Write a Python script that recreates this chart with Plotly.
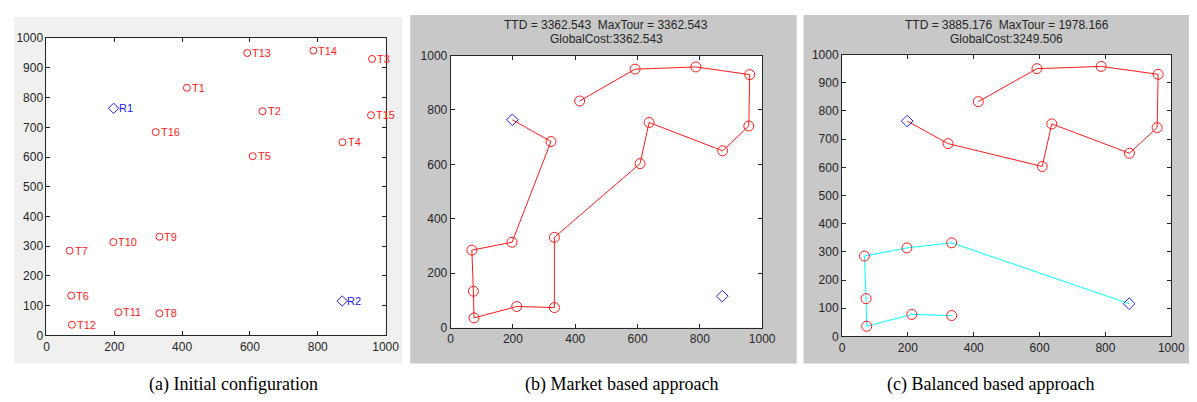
import plotly.graph_objects as go

# ---------------- data ----------------
target_names = ["T1", "T2", "T3", "T4", "T5", "T6", "T7", "T8", "T9", "T10",
                "T11", "T12", "T13", "T14", "T15", "T16"]
target_x = [414, 637, 960, 873, 608, 73, 68, 333, 333, 197, 212, 75, 592, 787, 957, 322]
target_y = [833, 754, 930, 650, 603, 134, 285, 74, 332, 314, 78, 36, 950, 958, 741, 684]

robot_names = ["R1", "R2"]
robot_x = [198, 872]
robot_y = [764, 116]

# routes (sequence of node names)
market_route_r1 = ["R1", "T16", "T10", "T7", "T6", "T12", "T11", "T8", "T9", "T5",
                   "T2", "T4", "T15", "T3", "T14", "T13", "T1"]
balanced_route_r1 = ["R1", "T16", "T5", "T2", "T4", "T15", "T3", "T14", "T13", "T1"]
balanced_route_r2 = ["R2", "T9", "T10", "T7", "T6", "T12", "T11", "T8"]

title_b = ["TTD = 3362.543  MaxTour = 3362.543", "GlobalCost:3362.543"]
title_c = ["TTD = 3885.176  MaxTour = 1978.166", "GlobalCost:3249.506"]
captions = ["(a) Initial configuration", "(b) Market based approach", "(c) Balanced based approach"]

# ---------------- helpers ----------------
W, H = 1197, 402
coords = {n: (x, y) for n, x, y in zip(target_names, target_x, target_y)}
coords.update({n: (x, y) for n, x, y in zip(robot_names, robot_x, robot_y)})


def px(x):
    return x / W


def py(y):
    return 1 - y / H


def route_xy(route):
    return [coords[n][0] for n in route], [coords[n][1] for n in route]


RED = "#ff1a1a"
BLUE = "#2020ff"
CYAN = "#00ffff"
AX = "#262626"
TICKFONT = dict(family="Liberation Sans, Arial", size=12, color=AX)

fig = go.Figure()

# panels: (axis suffix, x px range, y px range, ytick step)
panels = [
    ("", (36, 380), (24, 332), 100),
    ("2", (446, 762), (42, 324), 200),
    ("3", (843, 1177), (41, 333), 100),
]

# ---- panel a : initial configuration ----
fig.add_trace(go.Scatter(
    x=target_x, y=target_y, mode="markers",
    marker=dict(symbol="circle-open", size=7, color=RED, line=dict(width=1)),
    xaxis="x", yaxis="y", showlegend=False, cliponaxis=False))
fig.add_trace(go.Scatter(
    x=robot_x, y=robot_y, mode="markers",
    marker=dict(symbol="diamond-open", size=8, color=BLUE, line=dict(width=1)),
    xaxis="x", yaxis="y", showlegend=False, cliponaxis=False))

label_ann = []
for names, xs, ys, col in [(target_names, target_x, target_y, RED),
                           (robot_names, robot_x, robot_y, BLUE)]:
    for n, x, y in zip(names, xs, ys):
        label_ann.append(dict(text=n, x=x, y=y, xref="x", yref="y", showarrow=False,
                              xanchor="left", yanchor="middle", xshift=3,
                              font=dict(family="Liberation Sans, Arial", size=11, color=col)))

# ---- panel b : market based ----
rx, ry = route_xy(market_route_r1)
fig.add_trace(go.Scatter(x=rx, y=ry, mode="lines", line=dict(color=RED, width=1),
                         xaxis="x2", yaxis="y2", showlegend=False))
fig.add_trace(go.Scatter(x=target_x, y=target_y, mode="markers",
                         marker=dict(symbol="circle-open", size=10, color=RED, line=dict(width=1)),
                         xaxis="x2", yaxis="y2", showlegend=False))
fig.add_trace(go.Scatter(x=robot_x, y=robot_y, mode="markers",
                         marker=dict(symbol="diamond-open", size=9, color=BLUE, line=dict(width=1)),
                         xaxis="x2", yaxis="y2", showlegend=False))

# ---- panel c : balanced ----
rx, ry = route_xy(balanced_route_r1)
fig.add_trace(go.Scatter(x=rx, y=ry, mode="lines", line=dict(color=RED, width=1),
                         xaxis="x3", yaxis="y3", showlegend=False))
rx, ry = route_xy(balanced_route_r2)
fig.add_trace(go.Scatter(x=rx, y=ry, mode="lines", line=dict(color=CYAN, width=1),
                         xaxis="x3", yaxis="y3", showlegend=False))
fig.add_trace(go.Scatter(x=target_x, y=target_y, mode="markers",
                         marker=dict(symbol="circle-open", size=10, color=RED, line=dict(width=1)),
                         xaxis="x3", yaxis="y3", showlegend=False))
fig.add_trace(go.Scatter(x=robot_x, y=robot_y, mode="markers",
                         marker=dict(symbol="diamond-open", size=9, color=BLUE, line=dict(width=1)),
                         xaxis="x3", yaxis="y3", showlegend=False))

layout = dict(
    width=W, height=H, margin=dict(l=0, r=0, t=0, b=0),
    paper_bgcolor="white", plot_bgcolor="white", showlegend=False,
)

for suf, (x0, x1), (y0, y1), ystep in panels:
    common = dict(showgrid=False, zeroline=False, showline=True, linecolor=AX, linewidth=1,
                  mirror="ticks", ticks="inside", ticklen=4, tickcolor=AX,
                  tickfont=TICKFONT, fixedrange=True)
    layout["xaxis" + suf] = dict(domain=[px(x0), px(x1)], range=[0, 1000], dtick=200,
                                 anchor="y" + suf, ticklabelstandoff=0, **common)
    layout["yaxis" + suf] = dict(domain=[py(y1), py(y0)], range=[0, 1000], dtick=ystep,
                                 anchor="x" + suf, ticklabelstandoff=0, **common)

shapes = [
    dict(type="rect", xref="paper", yref="paper", x0=px(3), x1=px(397), y0=py(361), y1=py(2),
         fillcolor="#f0f0f0", line=dict(width=0), layer="below"),
    dict(type="rect", xref="paper", yref="paper", x0=px(405), x1=px(797), y0=py(361), y1=py(0),
         fillcolor="#c8c8c8", line=dict(width=0), layer="below"),
    dict(type="rect", xref="paper", yref="paper", x0=px(804), x1=px(1195), y0=py(361), y1=py(0),
         fillcolor="#c8c8c8", line=dict(width=0), layer="below"),
]
for suf, (x0, x1), (y0, y1), _ in panels:
    shapes.append(dict(type="rect", xref="paper", yref="paper", x0=px(x0), x1=px(x1),
                       y0=py(y1), y1=py(y0), fillcolor="white", line=dict(width=0), layer="below"))
layout["shapes"] = shapes

ann = list(label_ann)
titlefont = dict(family="Liberation Sans, Arial", size=12, color=AX)
for (cx, lines) in [(604, title_b), (1010, title_c)]:
    ann.append(dict(text=lines[0], x=px(cx), y=py(10), xref="paper", yref="paper",
                    showarrow=False, font=titlefont, xanchor="center", yanchor="middle"))
    ann.append(dict(text=lines[1], x=px(cx), y=py(25), xref="paper", yref="paper",
                    showarrow=False, font=titlefont, xanchor="center", yanchor="middle"))
capfont = dict(family="Liberation Serif, Times New Roman", size=18, color="black")
for cx, txt in zip([226, 619, 994], captions):
    ann.append(dict(text=txt, x=px(cx), y=py(383), xref="paper", yref="paper",
                    showarrow=False, font=capfont, xanchor="center", yanchor="middle"))
layout["annotations"] = ann

fig.update_layout(**layout)
fig.write_html("out.html")
